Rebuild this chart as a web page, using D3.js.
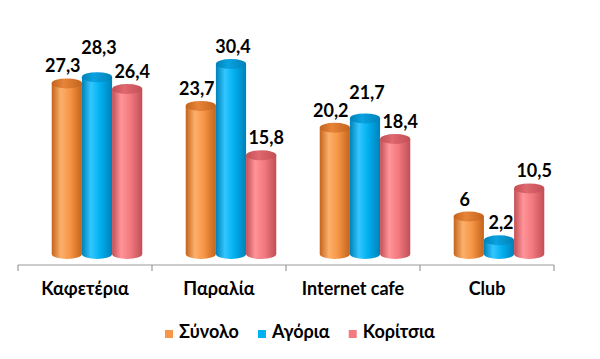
<!DOCTYPE html>
<html><head><meta charset="utf-8">
<script src="https://cdn.jsdelivr.net/npm/d3@7"></script>
<style>
html,body{margin:0;padding:0;background:#fff;}
text{font-family:Lato,'Open Sans',sans-serif;font-weight:bold;fill:#000;}
</style></head>
<body>
<svg id="chart" width="600" height="359"></svg>
<script>
const categories = ["Καφετέρια", "Παραλία", "Internet cafe", "Club"];
const seriesNames = ["Σύνολο", "Αγόρια", "Κορίτσια"];
const synolo = [27.3, 23.7, 20.2, 6];
const agoria = [28.3, 30.4, 21.7, 2.2];
const koritsia = [26.4, 15.8, 18.4, 10.5];
const seriesValues = [synolo, agoria, koritsia];
const colors = {
  "Σύνολο":   {base:"#F79646", dark:"#c4641c", light:"#fbb06c", top:"#e7843a"},
  "Αγόρια":   {base:"#00B0F0", dark:"#0081b8", light:"#33c6ff", top:"#0aa2e0"},
  "Κορίτσια": {base:"#F27A80", dark:"#c24e56", light:"#ff9499", top:"#e0686f"}
};

const svg = d3.select("#chart");
const defs = svg.append("defs");
seriesNames.forEach((s,i)=>{
  const c = colors[s];
  const g = defs.append("linearGradient").attr("id","body"+i).attr("x1","0").attr("x2","1").attr("y1","0").attr("y2","0");
  g.append("stop").attr("offset","0").attr("stop-color",c.dark);
  g.append("stop").attr("offset","0.3").attr("stop-color",c.light);
  g.append("stop").attr("offset","0.6").attr("stop-color",c.base);
  g.append("stop").attr("offset","1").attr("stop-color",c.dark);
  const t = defs.append("linearGradient").attr("id","top"+i).attr("x1","0").attr("x2","1").attr("y1","0").attr("y2","0");
  t.append("stop").attr("offset","0").attr("stop-color",c.dark);
  t.append("stop").attr("offset","0.4").attr("stop-color",c.top);
  t.append("stop").attr("offset","1").attr("stop-color",c.dark);
});

const x0 = d3.scaleBand().domain(categories).range([18, 554]).padding(0);
const x1 = d3.scaleBand().domain(seriesNames).range([0, x0.bandwidth()]).paddingInner(0).paddingOuter(0.72);
const depthShift = 12;
const y = d3.scaleLinear().domain([0, 35]).range([254, 254 - 35*6.25]);
const ry = 5;
const fs = "18px";

// axis
const axisY = 265;
const axis = d3.axisBottom(x0).tickSize(0).tickFormat("");
const axG = svg.append("g").attr("transform",`translate(0,${axisY})`).call(axis);
axG.select(".domain").attr("stroke","#9a9a9a").attr("stroke-width",1.2).attr("d",`M18,0H554`);
const edges = [18].concat(categories.map(c=>x0(c)+x0.bandwidth()));
axG.selectAll("line.sep").data(edges).enter().append("line").attr("class","sep")
  .attr("x1",d=>d).attr("x2",d=>d).attr("y1",0).attr("y2",6).attr("stroke","#9a9a9a").attr("stroke-width",1.2);

// category labels
svg.append("g").selectAll("text").data(categories).enter().append("text")
  .attr("x",d=>x0(d)+x0.bandwidth()/2).attr("y",295).attr("text-anchor","middle")
  .style("font-size",fs).text(d=>d);

const fmt = v => String(v).replace(".", ",");
const labelDx = [-4, 2, 5];

categories.forEach((cat,ci)=>{
  const labels = [];
  seriesNames.forEach((s,si)=>{
    const v = seriesValues[si][ci];
    const xl = x0(cat) + x1(s) + depthShift;
    const w = x1.bandwidth();
    const rx = w/2;
    const xr = xl + w;
    const yt = y(v), yb = y(0);
    svg.append("path")
      .attr("d",`M${xl},${yt} L${xl},${yb} A${rx},${ry} 0 0 0 ${xr},${yb} L${xr},${yt} Z`)
      .attr("fill",`url(#body${si})`);
    svg.append("ellipse").attr("cx",xl+rx).attr("cy",yt).attr("rx",rx).attr("ry",ry)
      .attr("fill",`url(#top${si})`);
    labels.push({x:xl+rx+labelDx[si], y:yt-11, text:fmt(v)});
  });
  // avoid overlap of the middle label with its neighbours
  const mid = labels[1];
  [labels[0], labels[2]].forEach(n=>{
    if (Math.abs(mid.y - n.y) < 14) mid.y = Math.min(mid.y, n.y - 18);
  });
  labels.forEach(l=>{
    svg.append("text").attr("x",l.x).attr("y",l.y).attr("text-anchor","middle")
      .style("font-size",fs).text(l.text);
  });
});

// legend
const lg = svg.append("g");
let lx = 165;
seriesNames.forEach((s)=>{
  lg.append("rect").attr("x",lx).attr("y",330).attr("width",8).attr("height",8).attr("fill",colors[s].base);
  const t = lg.append("text").attr("x",lx+14).attr("y",338).style("font-size",fs).text(s);
  lx += 14 + t.node().getComputedTextLength() + 19;
});
</script>
</body></html>
